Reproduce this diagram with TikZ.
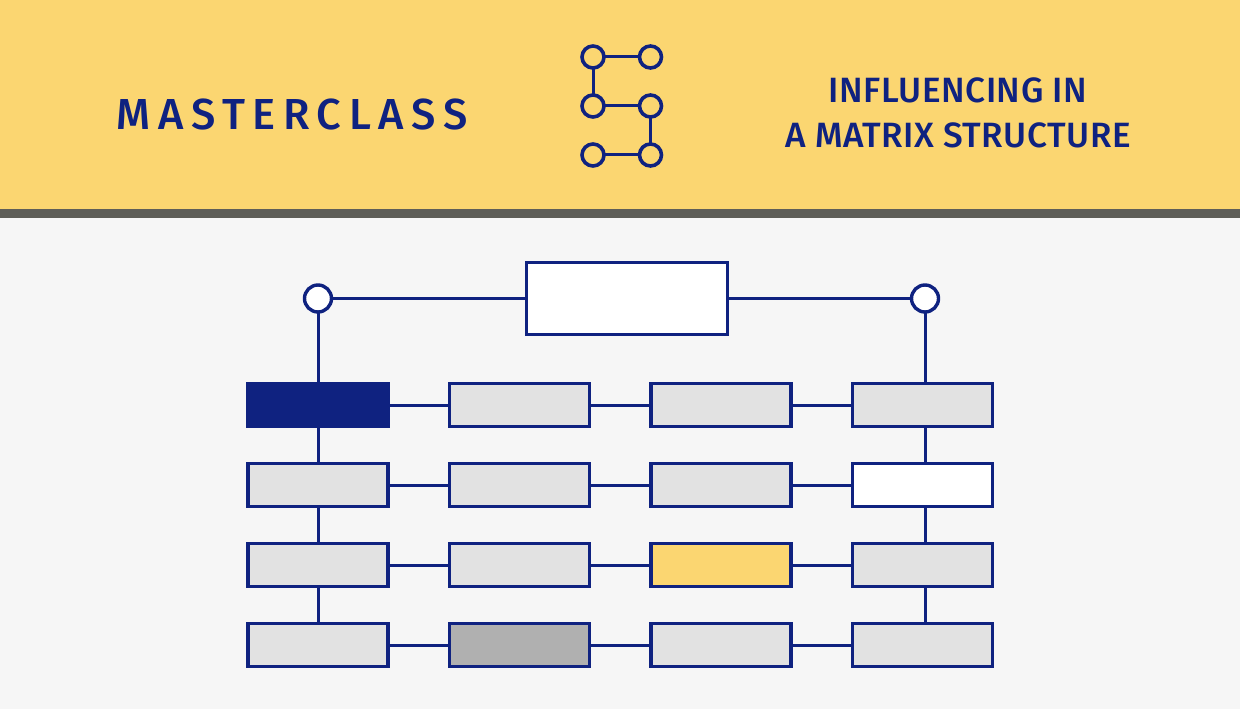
\documentclass[tikz,border=0pt]{standalone}
\usepackage{fontspec}
\setmainfont{Fira Sans}
\usetikzlibrary{positioning}
\newlength{\px}
\setlength{\px}{0.02cm}
\newfontfamily\headfont[LetterSpace=17.5]{Fira Sans Medium}
\newfontfamily\subjfont[LetterSpace=1.5]{Fira Sans Medium}
\definecolor{bandgold}{HTML}{FBD671}
\definecolor{bandedge}{HTML}{5E5E58}
\definecolor{pagegrey}{HTML}{F6F6F6}
\definecolor{navy}{HTML}{0F2280}
\definecolor{cellgrey}{HTML}{E2E2E2}
\definecolor{cellmid}{HTML}{B0B0B0}
\tikzset{
  cell/.style={rectangle, draw=navy, fill=cellgrey, line width=3.4\px, outer sep=0pt,
    inner sep=0pt, minimum width=140\px, minimum height=43\px},
  headbox/.style={rectangle, draw=navy, fill=white, line width=3.4\px, outer sep=0pt,
    inner sep=0pt, minimum width=201\px, minimum height=72\px},
  joint/.style={circle, draw=navy, fill=white, line width=3.4\px, outer sep=0pt,
    inner sep=0pt, minimum size=27\px},
  dot/.style={circle, draw=navy, line width=3.6\px, outer sep=0pt,
    inner sep=0pt, minimum size=22\px},
  wire/.style={draw=navy, line width=3\px},
  banner/.style={text=navy, inner sep=0pt, align=center},
}
\begin{document}
\begin{tikzpicture}[x=\px, y=-\px, node distance=37\px and 61.5\px]
\fill[pagegrey] (0,0) rectangle (1240,709);
\fill[bandgold] (0,0) rectangle (1240,209);
\fill[bandedge] (0,209) rectangle (1240,218);

\node[banner, font=\fontsize{24.7}{24.7}\headfont\selectfont] (title) at (292,115) {MASTERCLASS};
\node[banner, font=\fontsize{20}{25.5}\subjfont\selectfont] (subject) at (958,112.5)
  {INFLUENCING IN\\A MATRIX STRUCTURE};

% logo
\node[dot] (a1) at (593,57) {};
\node[dot] (a2) at (650.5,57) {};
\node[dot] (b1) at (593,106) {};
\node[dot] (b2) at (650.5,106) {};
\node[dot] (c1) at (593,155) {};
\node[dot] (c2) at (650.5,155) {};
\draw[wire] (a1)--(a2);
\draw[wire] (a1)--(b1);
\draw[wire] (b1)--(b2);
\draw[wire] (b2)--(c2);
\draw[wire] (c1)--(c2);

% top of the matrix
\node[headbox] (lead) at (627,298.5) {};
\node[joint] (jointl) at (318,298.5) {};
\node[joint] (jointr) at (925,298.5) {};

% rows
\node[cell, fill=navy] (r1c1) at (318,405) {};
\node[cell, right=of r1c1] (r1c2) {};
\node[cell, right=of r1c2] (r1c3) {};
\node[cell, right=of r1c3] (r1c4) {};

\node[cell, below=of r1c1] (r2c1) {};
\node[cell, right=of r2c1] (r2c2) {};
\node[cell, right=of r2c2] (r2c3) {};
\node[cell, fill=white, right=of r2c3] (r2c4) {};

\node[cell, below=of r2c1] (r3c1) {};
\node[cell, right=of r3c1] (r3c2) {};
\node[cell, fill=bandgold, right=of r3c2] (r3c3) {};
\node[cell, right=of r3c3] (r3c4) {};

\node[cell, below=of r3c1] (r4c1) {};
\node[cell, fill=cellmid, right=of r4c1] (r4c2) {};
\node[cell, right=of r4c2] (r4c3) {};
\node[cell, right=of r4c3] (r4c4) {};

\draw[wire] (jointl)--(lead);
\draw[wire] (lead)--(jointr);
\draw[wire] (jointl)--(r1c1);
\draw[wire] (r1c1)--(r2c1);
\draw[wire] (r2c1)--(r3c1);
\draw[wire] (r3c1)--(r4c1);
\draw[wire] (jointr)--(jointr |- r1c4.north);
\draw[wire] (jointr |- r1c4.south)--(jointr |- r2c4.north);
\draw[wire] (jointr |- r2c4.south)--(jointr |- r3c4.north);
\draw[wire] (jointr |- r3c4.south)--(jointr |- r4c4.north);

\draw[wire] (r1c1)--(r1c2);
\draw[wire] (r1c2)--(r1c3);
\draw[wire] (r1c3)--(r1c4);
\draw[wire] (r2c1)--(r2c2);
\draw[wire] (r2c2)--(r2c3);
\draw[wire] (r2c3)--(r2c4);
\draw[wire] (r3c1)--(r3c2);
\draw[wire] (r3c2)--(r3c3);
\draw[wire] (r3c3)--(r3c4);
\draw[wire] (r4c1)--(r4c2);
\draw[wire] (r4c2)--(r4c3);
\draw[wire] (r4c3)--(r4c4);
\end{tikzpicture}
\end{document}
